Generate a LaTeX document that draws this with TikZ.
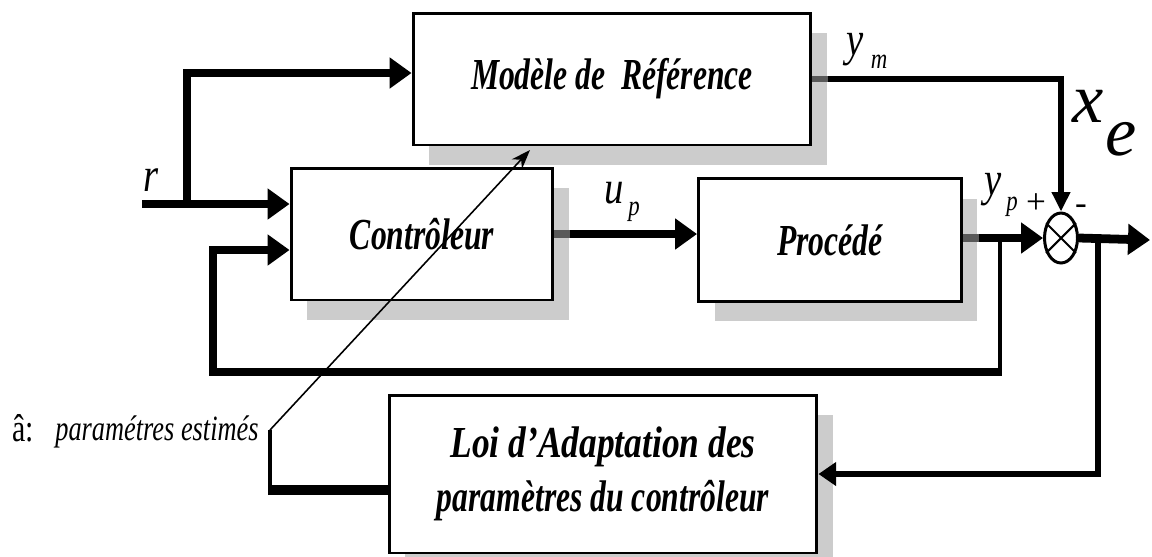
\documentclass[tikz,border=0pt]{standalone}
\usepackage{fontspec}
\usepackage{graphicx}
\setmainfont{Liberation Serif}
\usetikzlibrary{arrows.meta,shapes.geometric,shadows,calc}
\newcommand{\vstr}[2][1.4]{\scalebox{1}[#1]{#2}}
\begin{document}
\begin{tikzpicture}[x=0.02cm,y=-0.02cm,
  box/.style={draw, line width=1.7pt, fill=white, align=center, inner sep=0pt,
    font=\fontsize{18}{21}\selectfont\bfseries\itshape,
    drop shadow={shadow xshift=0.32cm, shadow yshift=-0.4cm, fill=gray!40, opacity=1}},
  thk/.style={line width=5pt},
  bigtip/.style={-{Triangle[length=12.5pt,width=17pt]}},
  lbl/.style={inner sep=0pt, font=\fontsize{22}{22}\selectfont\itshape},
  sublbl/.style={inner sep=0pt, font=\fontsize{13}{13}\selectfont\itshape}]
\useasboundingbox (0,0) rectangle (1152,556);

% blocks
\node[box, minimum width=7.96cm, minimum height=2.64cm] (mod) at (612,79) {\vstr{Modèle de~ Référence}};
\node[box, minimum width=5.24cm, minimum height=2.64cm] (ctrl) at (422,234) {\vstr{Contrôleur}};
\node[box, minimum width=5.26cm, minimum height=2.46cm] (proc) at (830,240) {\vstr{Procédé}};
\node[box, minimum width=8.56cm, minimum height=3.16cm] (loi) at (603,474) {\vstr{\begin{tabular}{@{}c@{}}\scalebox{1.12}[1]{Loi d’Adaptation des}\\[1pt]paramètres du contrôleur\end{tabular}}};
\node[draw, ellipse, line width=1.7pt, minimum width=0.66cm, minimum height=1.0cm, inner sep=0pt] (s) at (1061,238) {};
\draw[line width=1.2pt] (s.45) -- (s.225) (s.135) -- (s.315);

% coordinates
\coordinate (rin) at (142,204);
\coordinate (rb) at (187,204);
\coordinate (fb) at (1000,240);
\coordinate (fbl) at (213,372);
\coordinate (out) at (1150,240);
\coordinate (br) at (1098,240);
\coordinate (ah) at (270,430);
\coordinate (tip) at (530,150);
\coordinate (lo) at ([yshift=-0.32cm]loi.west);

% connectors
\draw[thk, bigtip] (rin) -- (rin -| ctrl.west);
\draw[thk, bigtip] (rb) |- ([yshift=0.12cm]mod.west);
\draw[thk, bigtip] (ctrl.east) -- (ctrl.east -| proc.west);
\draw[thk, black!65] (ctrl.east) -- ([xshift=0.32cm]ctrl.east);
\draw[thk, bigtip] (s.west -| proc.east) -- (s.west);
\draw[thk, black!65] (s.west -| proc.east) -- ([xshift=0.32cm]s.west -| proc.east);
\draw[thk, bigtip] (s.east) -- (out);
\draw[line width=3.4pt, -{Triangle[length=11pt,width=10pt]}] (mod.east) -| (s.north);
\draw[line width=3.4pt, black!65] (mod.east) -- ([xshift=0.32cm]mod.east);
\draw[line width=2.5pt] (fb) -- ([yshift=-0.08cm]fb |- fbl);
\draw[line width=4.5pt, bigtip] (fb |- fbl) -- (fbl) |- ([yshift=-0.32cm]ctrl.west);
\draw[line width=3.2pt, -{Triangle[length=10pt,width=13pt]}] (br) |- (loi.east);
\draw[line width=5.7pt] (lo) -- (lo -| ah);
\draw[line width=2.8pt] ([yshift=-0.1cm]lo -| ah) -- (ah);
\draw[line width=0.9pt, -{Stealth[length=11pt,width=8pt]}] (ah) -- (tip);

% labels
\node[lbl] (lr) at (151,180) {\vstr[1.25]{r}};
\node[lbl] (lu) at (614,193) {\vstr[1.2]{u}};
\node[sublbl] (lup) at (634,212) {\vstr[1.25]{p}};
\node[lbl] (lym) at (855,50) {\vstr[1.25]{y}};
\node[sublbl] (lymm) at (879,62) {\vstr[1.25]{m}};
\node[lbl] (lyp) at (993,190) {\vstr[1.25]{y}};
\node[sublbl] (lypp) at (1012,207) {\vstr[1.25]{p}};
\node[inner sep=0pt, font=\fontsize{20}{20}\selectfont] (plus) at (1036,204) {+};
\node[inner sep=0pt, font=\fontsize{20}{20}\selectfont] (minus) at (1081,210) {-};
\node[inner sep=0pt, font=\fontsize{40}{40}\selectfont\itshape] (xe) at (1088,106) {x};
\node[inner sep=0pt, font=\fontsize{40}{40}\selectfont\itshape] (xee) at (1121,139) {e};
\node[inner sep=0pt, font=\fontsize{17}{17}\selectfont] (ahat) at (23,428) {\vstr[1.3]{â:}};
\node[inner sep=0pt, font=\fontsize{15}{15}\selectfont\itshape] (pe) at (157,432) {\vstr[1.35]{paramétres estimés}};
\end{tikzpicture}
\end{document}
